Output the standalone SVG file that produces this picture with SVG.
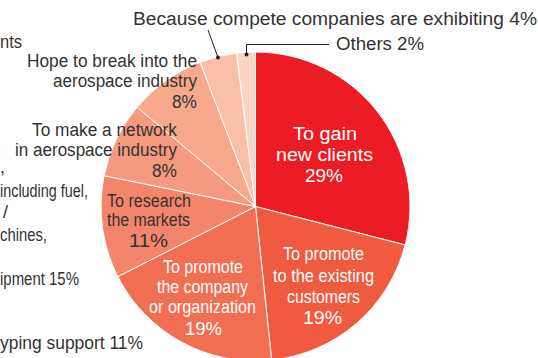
<svg xmlns="http://www.w3.org/2000/svg" width="538" height="358" viewBox="0 0 538 358">
<style>
.sl{stroke:#fff;stroke-width:1;stroke-linejoin:round}
text{font-family:"Liberation Sans",Arial,sans-serif;font-size:18px}
.w{fill:#fff}
.d{fill:#333}
.ld{stroke:#231f20;stroke-width:1;fill:none}
.dot{fill:#231f20}
</style>
<rect width="538" height="358" fill="#fff"/>
<g id="left-partial-labels">
<text class="d" x="0" y="48" textLength="22" lengthAdjust="spacingAndGlyphs">nts</text>
<text class="d" x="0" y="173">,</text>
<text class="d" x="0" y="197" textLength="88" lengthAdjust="spacingAndGlyphs">including fuel,</text>
<text class="d" x="3" y="218">/</text>
<text class="d" x="0" y="241" textLength="47" lengthAdjust="spacingAndGlyphs">chines,</text>
<text class="d" x="0" y="285" textLength="79" lengthAdjust="spacingAndGlyphs">ipment 15%</text>
<text class="d" x="0" y="349" textLength="143" lengthAdjust="spacingAndGlyphs">yping support 11%</text>
</g>
<g id="slice-new-clients">
<path class="sl" fill="#ed1c24" d="M255.5,206.5 L255.5,52 A154.5,154.5 0 0 1 405.15,244.92 Z"/>
</g>
<g id="slice-existing-customers">
<path class="sl" fill="#ef5a40" d="M255.5,206.5 L405.15,244.92 A154.5,154.5 0 0 1 271.65,360.15 Z"/>
</g>
<g id="slice-company">
<path class="sl" fill="#f16e52" d="M255.5,206.5 L271.65,360.15 A154.5,154.5 0 0 1 117.84,276.64 Z"/>
</g>
<g id="slice-research">
<path class="sl" fill="#f3866a" d="M255.5,206.5 L117.84,276.64 A154.5,154.5 0 0 1 104.10,175.70 Z"/>
</g>
<g id="slice-network">
<path class="sl" fill="#f59a7f" d="M255.5,206.5 L104.10,175.70 A154.5,154.5 0 0 1 137.15,107.19 Z"/>
</g>
<g id="slice-hope">
<path class="sl" fill="#f7a98c" d="M255.5,206.5 L137.15,107.19 A154.5,154.5 0 0 1 200.13,62.26 Z"/>
</g>
<g id="slice-competitors">
<path class="sl" fill="#f9bfa7" d="M255.5,206.5 L200.13,62.26 A154.5,154.5 0 0 1 236.67,53.15 Z"/>
</g>
<g id="slice-others">
<path class="sl" fill="#fcd4c4" d="M255.5,206.5 L236.67,53.15 A154.5,154.5 0 0 1 255.5,52 Z"/>
</g>
<g id="connectors">
<line class="ld" x1="208" y1="30" x2="218" y2="57.5"/>
<circle class="dot" cx="218" cy="57.5" r="2"/>
<polyline class="ld" points="329,44.5 246.5,44.5 246.5,54.5"/>
<circle class="dot" cx="246.5" cy="54.5" r="2"/>
</g>
<g id="label-new-clients">
<text class="w" x="293" y="140" textLength="64" lengthAdjust="spacingAndGlyphs">To gain</text>
<text class="w" x="276" y="161" textLength="97" lengthAdjust="spacingAndGlyphs">new clients</text>
<text class="w" x="305" y="182" textLength="38" lengthAdjust="spacingAndGlyphs">29%</text>
</g>
<g id="label-existing-customers">
<text class="w" x="283" y="260" textLength="81" lengthAdjust="spacingAndGlyphs">To promote</text>
<text class="w" x="273" y="282" textLength="101" lengthAdjust="spacingAndGlyphs">to the existing</text>
<text class="w" x="287" y="303" textLength="73" lengthAdjust="spacingAndGlyphs">customers</text>
<text class="w" x="303" y="324" textLength="39" lengthAdjust="spacingAndGlyphs">19%</text>
</g>
<g id="label-company">
<text class="w" x="163" y="273" textLength="80" lengthAdjust="spacingAndGlyphs">To promote</text>
<text class="w" x="157" y="293" textLength="91" lengthAdjust="spacingAndGlyphs">the company</text>
<text class="w" x="149" y="313" textLength="107" lengthAdjust="spacingAndGlyphs">or organization</text>
<text class="w" x="185" y="335" textLength="37" lengthAdjust="spacingAndGlyphs">19%</text>
</g>
<g id="label-research">
<text class="d" x="107" y="207" textLength="84" lengthAdjust="spacingAndGlyphs">To research</text>
<text class="d" x="107" y="226" textLength="83" lengthAdjust="spacingAndGlyphs">the markets</text>
<text class="d" x="129" y="247" textLength="39" lengthAdjust="spacingAndGlyphs">11%</text>
</g>
<g id="label-network">
<text class="d" x="32" y="136" textLength="145" lengthAdjust="spacingAndGlyphs">To make a network</text>
<text class="d" x="15" y="156" textLength="162" lengthAdjust="spacingAndGlyphs">in aerospace industry</text>
<text class="d" x="152" y="177" textLength="25" lengthAdjust="spacingAndGlyphs">8%</text>
</g>
<g id="label-hope">
<text class="d" x="27" y="67" textLength="170" lengthAdjust="spacingAndGlyphs">Hope to break into the</text>
<text class="d" x="53" y="87" textLength="144" lengthAdjust="spacingAndGlyphs">aerospace industry</text>
<text class="d" x="172" y="108" textLength="25" lengthAdjust="spacingAndGlyphs">8%</text>
</g>
<g id="label-competitors">
<text class="d" x="133" y="25" textLength="404" lengthAdjust="spacingAndGlyphs">Because compete companies are exhibiting 4%</text>
</g>
<g id="label-others">
<text class="d" x="336" y="50" textLength="88" lengthAdjust="spacingAndGlyphs">Others 2%</text>
</g>
</svg>
